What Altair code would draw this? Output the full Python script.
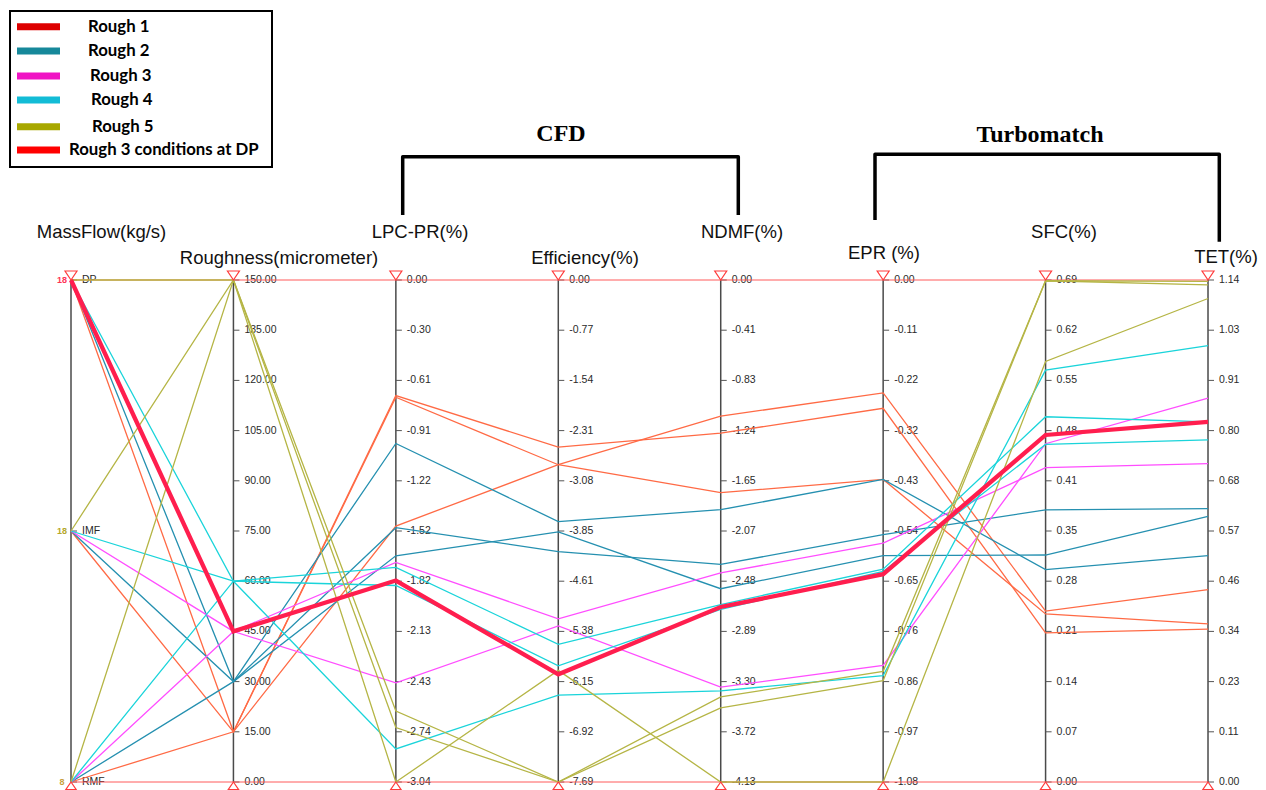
import altair as alt
import pandas as pd

# ---------------- data ----------------
AXIS_TITLES = ["MassFlow(kg/s)", "Roughness(micrometer)", "LPC-PR(%)", "Efficiency(%)",
               "NDMF(%)", "EPR (%)", "SFC(%)", "TET(%)"]
MASSFLOW_LEVELS = ["RMF", "IMF", "DP"]          # bottom -> top
AXIS_RANGES = [None, (0, 150), (-3.04, 0), (-7.69, 0), (-4.13, 0), (-1.08, 0), (0, 0.69), (0, 1.14)]

TICKS_ROUGH = ["150.00", "135.00", "120.00", "105.00", "90.00", "75.00", "60.00", "45.00", "30.00", "15.00", "0.00"]
TICKS_LPC = ["0.00", "-0.30", "-0.61", "-0.91", "-1.22", "-1.52", "-1.82", "-2.13", "-2.43", "-2.74", "-3.04"]
TICKS_EFF = ["0.00", "-0.77", "-1.54", "-2.31", "-3.08", "-3.85", "-4.61", "-5.38", "-6.15", "-6.92", "-7.69"]
TICKS_NDMF = ["0.00", "-0.41", "-0.83", "-1.24", "-1.65", "-2.07", "-2.48", "-2.89", "-3.30", "-3.72", "-4.13"]
TICKS_EPR = ["0.00", "-0.11", "-0.22", "-0.32", "-0.43", "-0.54", "-0.65", "-0.76", "-0.86", "-0.97", "-1.08"]
TICKS_SFC = ["0.69", "0.62", "0.55", "0.48", "0.41", "0.35", "0.28", "0.21", "0.14", "0.07", "0.00"]
TICKS_TET = ["1.14", "1.03", "0.91", "0.80", "0.68", "0.57", "0.46", "0.34", "0.23", "0.11", "0.00"]
TICK_LABELS = [["DP", "IMF", "RMF"], TICKS_ROUGH, TICKS_LPC, TICKS_EFF, TICKS_NDMF, TICKS_EPR, TICKS_SFC, TICKS_TET]

GROUPS = ["Rough 1", "Rough 2", "Rough 3", "Rough 4", "Rough 5", "Rough 3 conditions at DP"]

# Rough 1
r1_massflow = ["DP", "IMF", "RMF"]
r1_rough = 15
r1_lpc = [-0.70, -0.71, -1.49]
r1_eff = [-2.56, -2.83, -2.83]
r1_ndmf = [-1.26, -1.75, -1.12]
r1_epr = [-0.276, -0.429, -0.243]
r1_sfc = [0.205, 0.231, 0.235]
r1_tet = [0.347, 0.359, 0.437]
# Rough 2
r2_massflow = ["DP", "IMF", "RMF"]
r2_rough = 30
r2_lpc = [-0.99, -1.50, -1.67]
r2_eff = [-3.70, -4.16, -3.86]
r2_ndmf = [-1.89, -2.34, -2.54]
r2_epr = [-0.429, -0.548, -0.593]
r2_sfc = [0.292, 0.374, 0.312]
r2_tet = [0.514, 0.621, 0.603]
# Rough 3
r3_massflow = ["IMF", "RMF"]
r3_rough = 45
r3_lpc = [-1.71, -2.44]
r3_eff = [-5.19, -5.30]
r3_ndmf = [-2.41, -3.35]
r3_epr = [-0.566, -0.829]
r3_sfc = [0.432, 0.465]
r3_tet = [0.723, 0.872]
# Rough 4
r4_massflow = ["DP", "IMF", "RMF"]
r4_rough = 60
r4_lpc = [-1.74, -1.85, -2.84]
r4_eff = [-5.58, -5.91, -6.36]
r4_ndmf = [-2.67, -2.71, -3.38]
r4_epr = [-0.622, -0.627, -0.851]
r4_sfc = [0.502, 0.464, 0.566]
r4_tet = [0.818, 0.777, 0.991]
# Rough 5
r5_massflow = ["DP", "IMF", "RMF"]
r5_rough = 150
r5_lpc = [-2.61, -2.71, -3.04]
r5_eff = [-7.69, -7.69, -5.98]
r5_ndmf = [-3.43, -3.52, -4.13]
r5_epr = [-0.842, -0.862, -1.08]
r5_sfc = [0.689, 0.689, 0.578]
r5_tet = [1.137, 1.129, 1.098]
# Rough 3 at design point
dp_massflow = ["DP"]
dp_rough = 45
dp_lpc = [-1.82]
dp_eff = [-6.04]
dp_ndmf = [-2.69]
dp_epr = [-0.633]
dp_sfc = [0.477]
dp_tet = [0.818]

SERIES = [
    ("Rough 1", r1_massflow, r1_rough, r1_lpc, r1_eff, r1_ndmf, r1_epr, r1_sfc, r1_tet),
    ("Rough 2", r2_massflow, r2_rough, r2_lpc, r2_eff, r2_ndmf, r2_epr, r2_sfc, r2_tet),
    ("Rough 3", r3_massflow, r3_rough, r3_lpc, r3_eff, r3_ndmf, r3_epr, r3_sfc, r3_tet),
    ("Rough 4", r4_massflow, r4_rough, r4_lpc, r4_eff, r4_ndmf, r4_epr, r4_sfc, r4_tet),
    ("Rough 5", r5_massflow, r5_rough, r5_lpc, r5_eff, r5_ndmf, r5_epr, r5_sfc, r5_tet),
    ("Rough 3 conditions at DP", dp_massflow, dp_rough, dp_lpc, dp_eff, dp_ndmf, dp_epr, dp_sfc, dp_tet),
]

# ---------------- styles ----------------
LINE_COLORS = ["#ff6a45", "#2590b0", "#ff4dff", "#1ad4da", "#b5b545", "#ff1e4e"]
LEGEND_COLORS = ["#dd0000", "#16889a", "#f014c4", "#12bcd6", "#a8a800", "#ff0000"]

# layout helpers (page pixel -> scale units), decoration only
AX0_PX, AX_STEP = 71.0, 162.43
Y0_PX, Y_SPAN = 782.0, 502.0
W, H = 1250, 782
def ux(px):
    return (px - AX0_PX) / AX_STEP
def uy(py):
    return (Y0_PX - py) / Y_SPAN

X_SCALE = alt.Scale(domain=[ux(8), ux(8 + W)], nice=False, zero=False)
Y_SCALE = alt.Scale(domain=[uy(8 + H), uy(8)], nice=False, zero=False)

def X(f):
    return alt.X(f, type="quantitative", scale=X_SCALE, axis=None)
def Y(f):
    return alt.Y(f, type="quantitative", scale=Y_SCALE, axis=None)

# ---------------- build tables ----------------
rows = []
for g, mf, rough, lpc, eff, ndmf, epr, sfc, tet in SERIES:
    for k in range(len(mf)):
        vals = [mf[k], rough, lpc[k], eff[k], ndmf[k], epr[k], sfc[k], tet[k]]
        for i, v in enumerate(vals):
            if i == 0:
                frac = MASSFLOW_LEVELS.index(v) / (len(MASSFLOW_LEVELS) - 1)
            else:
                lo, hi = AXIS_RANGES[i]
                frac = (v - lo) / (hi - lo)
            rows.append({"line": f"{g}|{mf[k]}", "group": g, "idx": i, "frac": frac})
lines_df = pd.DataFrame(rows)

axes_df = pd.DataFrame({"idx": list(range(len(AXIS_TITLES))), "y0": 0.0, "y1": 1.0,
                        "top": 1.0, "bottom": 0.0})

tick_rows = []
for i, labels in enumerate(TICK_LABELS):
    n = len(labels)
    for j, lab in enumerate(labels):
        tick_rows.append({"idx": i, "frac": 1 - j / (n - 1), "label": lab})
ticks_df = pd.DataFrame(tick_rows)

bounds_df = pd.DataFrame({"frac": [0.0, 1.0], "x0": 0, "x1": len(AXIS_TITLES) - 1})

HEADER_X_PX = [101.5, 279, 420, 585, 742, 884, 1064, 1226]
HEADER_Y_PX = [232, 258, 232, 258, 232, 253, 232, 257]
headers_df = pd.DataFrame({"x": [ux(p) for p in HEADER_X_PX], "y": [uy(p) for p in HEADER_Y_PX],
                           "text": AXIS_TITLES})

BRACKETS = {
    "CFD": [(402.7, 215), (402.7, 156.7), (738.3, 156.7), (738.3, 215)],
    "Turbomatch": [(875, 220), (875, 154.3), (1219.3, 154.3), (1219.3, 241.7)],
}
br_rows = []
for name, pts in BRACKETS.items():
    for o, (px, py) in enumerate(pts):
        br_rows.append({"name": name, "o": o, "x": ux(px), "y": uy(py)})
brackets_df = pd.DataFrame(br_rows)
br_labels_df = pd.DataFrame({"text": ["CFD", "Turbomatch"], "x": [ux(561), ux(1040)], "y": [uy(134), uy(135)]})

marks_df = pd.DataFrame({"text": ["18", "18", "8"], "frac": [1.0, 0.5, 0.0], "idx": 0,
                         "c": ["#ff3355", "#b5a82a", "#c8a040"]})

# legend layout (decoration, page pixels)
LEG_BOX = (10, 11, 272, 167)
LEG_SWATCH_X = (17, 60)
LEG_ROW_Y = [26.7, 51, 76, 100, 126.7, 150]
LEG_LABEL_X = [88, 88, 90, 91, 92, 69]
legend_df = pd.DataFrame({
    "label": GROUPS, "color": LEGEND_COLORS,
    "sx0": ux(LEG_SWATCH_X[0]), "sx1": ux(LEG_SWATCH_X[1]),
    "y": [uy(v) for v in LEG_ROW_Y], "lx": [ux(v) for v in LEG_LABEL_X],
})
legend_box_df = pd.DataFrame({"x0": [ux(LEG_BOX[0])], "x1": [ux(LEG_BOX[2])],
                              "y0": [uy(LEG_BOX[1])], "y1": [uy(LEG_BOX[3])]})

# ---------------- layers ----------------
axis_rules = alt.Chart(axes_df).mark_rule(color="#4a4a4a", strokeWidth=1.5).encode(
    x=X("idx"), y=Y("y0"), y2="y1")

tick_marks = alt.Chart(ticks_df).mark_rule(color="#555555", strokeWidth=1, x2Offset=6).encode(
    x=X("idx"), x2="idx", y=Y("frac"))

tick_text = alt.Chart(ticks_df).mark_text(align="left", baseline="middle", dx=11, fontSize=10.5,
                                          font="Liberation Sans", color="#2a2a2a").encode(
    x=X("idx"), y=Y("frac"), text="label:N")

bounds = alt.Chart(bounds_df).mark_rule(color="#ff5a5a", strokeWidth=1).encode(
    x=X("x0"), x2="x1", y=Y("frac"))

STROKE = alt.Stroke("group:N", scale=alt.Scale(domain=GROUPS, range=LINE_COLORS), legend=None)

thin_lines = alt.Chart(lines_df).transform_filter(
    alt.datum.group != GROUPS[-1]).mark_line(strokeWidth=1.3).encode(
    x=X("idx"), y=Y("frac"), stroke=STROKE, detail="line:N", order="idx:Q")

dp_line = alt.Chart(lines_df).transform_filter(
    alt.datum.group == GROUPS[-1]).mark_line(strokeWidth=4.3).encode(
    x=X("idx"), y=Y("frac"), stroke=STROKE, detail="line:N", order="idx:Q")

tri_top = alt.Chart(axes_df).mark_point(shape="M-1,-1.5L1,-1.5L0,0Z", size=144, filled=True,
                                        fill="#ffffff", stroke="#ff3b3b", strokeWidth=1.2,
                                        opacity=1).encode(x=X("idx"), y=Y("top"))
tri_bot = alt.Chart(axes_df).mark_point(shape="M0,0L1,1.45L-1,1.45Z", size=110, filled=True,
                                        fill="#ffffff", stroke="#ff3b3b", strokeWidth=1.2,
                                        opacity=1).encode(x=X("idx"), y=Y("bottom"))

headers = alt.Chart(headers_df).mark_text(font="Liberation Sans", fontSize=18.5, align="center",
                                          baseline="middle", color="#111111").encode(
    x=X("x"), y=Y("y"), text="text:N")

brackets = alt.Chart(brackets_df).mark_line(color="#000000", strokeWidth=3.5, strokeJoin="round",
                                            strokeCap="butt").encode(
    x=X("x"), y=Y("y"), detail="name:N", order="o:Q")

br_labels = alt.Chart(br_labels_df).mark_text(font="Liberation Serif", fontWeight="bold", fontSize=24,
                                              align="center", baseline="middle", color="#000000").encode(
    x=X("x"), y=Y("y"), text="text:N")

small_marks = alt.Chart(marks_df).mark_text(font="Liberation Sans", fontSize=9, fontWeight="bold",
                                            align="center", baseline="middle", dx=-9).encode(
    x=X("idx"), y=Y("frac"), text="text:N", fill=alt.Fill("c:N", scale=None))

legend_box = alt.Chart(legend_box_df).mark_rect(fill="#ffffff", stroke="#000000", strokeWidth=2).encode(
    x=X("x0"), x2="x1", y=Y("y0"), y2="y1")
legend_swatch = alt.Chart(legend_df).mark_rule(strokeWidth=7).encode(
    x=X("sx0"), x2="sx1", y=Y("y"), stroke=alt.Stroke("color:N", scale=None))
legend_text = alt.Chart(legend_df).mark_text(font="Lato", fontWeight="bold", fontSize=16.8, align="left",
                                             baseline="middle", color="#000000").encode(
    x=X("lx"), y=Y("y"), text="label:N")

chart = alt.layer(
    axis_rules, tick_marks, tick_text, bounds, thin_lines, dp_line, tri_top, tri_bot,
    headers, brackets, br_labels, small_marks, legend_box, legend_swatch, legend_text
).properties(
    width=W, height=H, autosize=alt.AutoSizeParams(type="none"), padding=0, background="#ffffff"
).configure_view(stroke=None)

chart.save("out.html", embed_options={"renderer": "svg", "actions": False})
